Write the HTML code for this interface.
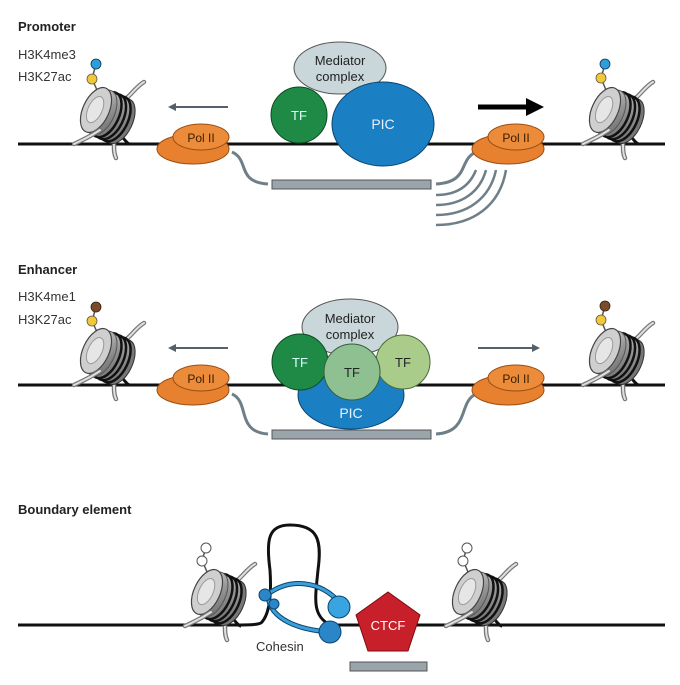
<!DOCTYPE html>
<html><head><style>
body{margin:0;background:#fff}
svg{display:block}
text{font-family:"Liberation Sans",sans-serif}
</style></head><body>
<svg width="680" height="685" viewBox="0 0 680 685" xmlns="http://www.w3.org/2000/svg">
<defs>
<linearGradient id="cyl" x1="0" y1="0" x2="1" y2="1">
<stop offset="0" stop-color="#d8d8d8"/><stop offset="0.5" stop-color="#9a9a9a"/><stop offset="1" stop-color="#6a6a6a"/>
</linearGradient>
<g id="nuc">
  <path d="M18,20 C26,24 30,34 34,34" stroke="#111" stroke-width="3" fill="none"/>
  <path d="M24,-8 C34,-12 38,-22 48,-28" stroke="#777" stroke-width="4.5" fill="none" stroke-linecap="round"/>
  <path d="M24,-8 C34,-12 38,-22 48,-28" stroke="#e0e0e0" stroke-width="2" fill="none" stroke-linecap="round"/>
  <path d="M16,24 C20,32 16,40 20,48" stroke="#777" stroke-width="4.5" fill="none" stroke-linecap="round"/>
  <path d="M16,24 C20,32 16,40 20,48" stroke="#e0e0e0" stroke-width="2" fill="none" stroke-linecap="round"/>
  <g transform="rotate(25)">
    <ellipse cx="26" cy="0" rx="13" ry="24" fill="#777" stroke="#333" stroke-width="1"/>
    <ellipse cx="21" cy="0" rx="13" ry="24" fill="url(#cyl)" stroke="#111" stroke-width="2.5"/>
    <ellipse cx="16" cy="0" rx="13" ry="24" fill="url(#cyl)" stroke="#111" stroke-width="2.5"/>
    <ellipse cx="11" cy="0" rx="13" ry="24" fill="url(#cyl)" stroke="#111" stroke-width="2.5"/>
    <ellipse cx="6" cy="0" rx="13" ry="24" fill="url(#cyl)" stroke="#555" stroke-width="1"/>
    <ellipse cx="0" cy="0" rx="13" ry="24" fill="#cfcfcf" stroke="#444" stroke-width="1.2"/>
    <ellipse cx="-1" cy="0" rx="7" ry="14" fill="#e6e6e6" stroke="#999" stroke-width="1"/>
  </g>
  <path d="M-22,34 C-14,30 -8,28 4,20" stroke="#777" stroke-width="4.5" fill="none" stroke-linecap="round"/>
  <path d="M-22,34 C-14,30 -8,28 4,20" stroke="#e0e0e0" stroke-width="2" fill="none" stroke-linecap="round"/>
</g>
<g id="pol">
  <ellipse cx="-2" cy="8" rx="36" ry="15" fill="#e8812f" stroke="#9a4e12" stroke-width="1"/>
  <ellipse cx="6" cy="-4" rx="28" ry="13" fill="#ec8b3a" stroke="#9a4e12" stroke-width="1"/>
  <text x="6" y="1" font-size="12" text-anchor="middle" fill="#3a2000">Pol II</text>
</g>
</defs>

<!-- PROMOTER -->
<text x="18" y="31" font-size="13" font-weight="bold" fill="#222">Promoter</text>
<text x="18" y="59" font-size="13" fill="#333">H3K4me3</text>
<text x="18" y="81" font-size="13" fill="#333">H3K27ac</text>
<line x1="18" y1="144" x2="665" y2="144" stroke="#111" stroke-width="3"/>
<line x1="96" y1="64" x2="92" y2="79" stroke="#555" stroke-width="1.5"/>
<line x1="92" y1="79" x2="97" y2="90" stroke="#555" stroke-width="1.5"/>
<use href="#nuc" x="96" y="110"/>
<circle cx="96" cy="64" r="5" fill="#2a9fd8" stroke="#135" stroke-width=".8"/>
<circle cx="92" cy="79" r="5" fill="#f0c93a" stroke="#654" stroke-width=".8"/>
<line x1="605" y1="64" x2="601" y2="78" stroke="#555" stroke-width="1.5"/>
<line x1="601" y1="78" x2="606" y2="90" stroke="#555" stroke-width="1.5"/>
<use href="#nuc" x="605" y="110"/>
<circle cx="605" cy="64" r="5" fill="#2a9fd8" stroke="#135" stroke-width=".8"/>
<circle cx="601" cy="78" r="5" fill="#f0c93a" stroke="#654" stroke-width=".8"/>
<line x1="228" y1="107" x2="172" y2="107" stroke="#55606a" stroke-width="2"/>
<path d="M168,107 l8,-4 v8z" fill="#55606a"/>
<line x1="478" y1="107" x2="528" y2="107" stroke="#000" stroke-width="5"/>
<path d="M544,107 l-18,-9 v18z" fill="#000"/>
<path d="M232,152 C250,160 236,182 268,184" stroke="#6f7f88" stroke-width="3" fill="none"/>
<rect x="272" y="180" width="159" height="9" fill="#9aa4ab" stroke="#555" stroke-width="1"/>
<path d="M476,152 C458,160 470,182 436,184" stroke="#6f7f88" stroke-width="3" fill="none"/>
<g stroke="#6f7f88" stroke-width="2.5" fill="none">
<path d="M436,195 C458,195 470,185 476,170"/>
<path d="M436,205 C462,205 480,192 486,170"/>
<path d="M436,215 C468,215 490,198 496,170"/>
<path d="M436,225 C474,225 500,205 506,170"/>
</g>
<use href="#pol" x="195" y="141"/>
<use href="#pol" x="510" y="141"/>
<ellipse cx="340" cy="68" rx="46" ry="26" fill="#c9d7db" stroke="#555" stroke-width="1"/>
<text x="340" y="65" font-size="13" text-anchor="middle" fill="#222">Mediator</text>
<text x="340" y="81" font-size="13" text-anchor="middle" fill="#222">complex</text>
<ellipse cx="383" cy="124" rx="51" ry="42" fill="#1b7fc4" stroke="#0b4470" stroke-width="1"/>
<text x="383" y="129" font-size="14" text-anchor="middle" fill="#e6f2ff">PIC</text>
<circle cx="299" cy="115" r="28" fill="#1e8a46" stroke="#0c4a22" stroke-width="1"/>
<text x="299" y="120" font-size="13" text-anchor="middle" fill="#dff">TF</text>

<!-- ENHANCER -->
<text x="18" y="274" font-size="13" font-weight="bold" fill="#222">Enhancer</text>
<text x="18" y="301" font-size="13" fill="#333">H3K4me1</text>
<text x="18" y="324" font-size="13" fill="#333">H3K27ac</text>
<line x1="18" y1="385" x2="665" y2="385" stroke="#111" stroke-width="3"/>
<line x1="96" y1="307" x2="92" y2="321" stroke="#555" stroke-width="1.5"/>
<line x1="92" y1="321" x2="97" y2="332" stroke="#555" stroke-width="1.5"/>
<use href="#nuc" x="96" y="351"/>
<circle cx="96" cy="307" r="5" fill="#7a4a2a" stroke="#321" stroke-width=".8"/>
<circle cx="92" cy="321" r="5" fill="#f0c93a" stroke="#654" stroke-width=".8"/>
<line x1="605" y1="306" x2="601" y2="320" stroke="#555" stroke-width="1.5"/>
<line x1="601" y1="320" x2="606" y2="332" stroke="#555" stroke-width="1.5"/>
<use href="#nuc" x="605" y="351"/>
<circle cx="605" cy="306" r="5" fill="#7a4a2a" stroke="#321" stroke-width=".8"/>
<circle cx="601" cy="320" r="5" fill="#f0c93a" stroke="#654" stroke-width=".8"/>
<line x1="228" y1="348" x2="172" y2="348" stroke="#55606a" stroke-width="2"/>
<path d="M168,348 l8,-4 v8z" fill="#55606a"/>
<line x1="478" y1="348" x2="534" y2="348" stroke="#55606a" stroke-width="2"/>
<path d="M540,348 l-8,-4 v8z" fill="#55606a"/>
<path d="M232,394 C250,402 236,432 268,434" stroke="#6f7f88" stroke-width="3" fill="none"/>
<rect x="272" y="430" width="159" height="9" fill="#9aa4ab" stroke="#555" stroke-width="1"/>
<path d="M476,394 C458,402 470,432 436,434" stroke="#6f7f88" stroke-width="3" fill="none"/>
<use href="#pol" x="195" y="382"/>
<use href="#pol" x="510" y="382"/>
<ellipse cx="351" cy="395" rx="53" ry="34" fill="#1b7fc4" stroke="#0b4470" stroke-width="1"/>
<text x="351" y="418" font-size="14" text-anchor="middle" fill="#e6f2ff">PIC</text>
<ellipse cx="350" cy="327" rx="48" ry="28" fill="#c9d7db" stroke="#555" stroke-width="1"/>
<text x="350" y="323" font-size="13" text-anchor="middle" fill="#222">Mediator</text>
<text x="350" y="339" font-size="13" text-anchor="middle" fill="#222">complex</text>
<circle cx="300" cy="362" r="28" fill="#1e8a46" stroke="#0c4a22" stroke-width="1"/>
<text x="300" y="367" font-size="13" text-anchor="middle" fill="#dff">TF</text>
<circle cx="403" cy="362" r="27" fill="#a9cc8a" stroke="#4b6b38" stroke-width="1"/>
<text x="403" y="367" font-size="13" text-anchor="middle" fill="#222">TF</text>
<circle cx="352" cy="372" r="28" fill="#8fc092" stroke="#335f3a" stroke-width="1"/>
<text x="352" y="377" font-size="13" text-anchor="middle" fill="#222">TF</text>

<!-- BOUNDARY -->
<text x="18" y="514" font-size="13" font-weight="bold" fill="#222">Boundary element</text>
<path d="M18,625 H230 C250,625 260,625 262,622 C268,615 272,600 270,570 C266,540 268,525 290,525 C318,525 322,540 318,570 C315,600 312,615 330,625 H665" stroke="#111" stroke-width="3" fill="none"/>
<line x1="206" y1="548" x2="202" y2="560" stroke="#555" stroke-width="1.5"/>
<line x1="202" y1="560" x2="207" y2="572" stroke="#555" stroke-width="1.5"/>
<use href="#nuc" x="207" y="592"/>
<circle cx="206" cy="548" r="5" fill="#fff" stroke="#555" stroke-width="1"/>
<circle cx="202" cy="561" r="5" fill="#fff" stroke="#555" stroke-width="1"/>
<line x1="467" y1="548" x2="463" y2="560" stroke="#555" stroke-width="1.5"/>
<line x1="463" y1="560" x2="468" y2="572" stroke="#555" stroke-width="1.5"/>
<use href="#nuc" x="468" y="592"/>
<circle cx="467" cy="548" r="5" fill="#fff" stroke="#555" stroke-width="1"/>
<circle cx="463" cy="561" r="5" fill="#fff" stroke="#555" stroke-width="1"/>
<g fill="none" stroke="#0b4470" stroke-width="5">
<path d="M268,594 C290,578 320,580 340,603"/>
<path d="M268,596 C270,620 300,630 330,632"/>
</g>
<g fill="none" stroke="#3aa0d8" stroke-width="3">
<path d="M268,594 C290,578 320,580 340,603"/>
<path d="M268,596 C270,620 300,630 330,632"/>
</g>
<circle cx="265" cy="595" r="6" fill="#2a86c6" stroke="#0b4470"/>
<circle cx="274" cy="604" r="5" fill="#2a86c6" stroke="#0b4470"/>
<circle cx="339" cy="607" r="11" fill="#3aa4e0" stroke="#0b4470"/>
<circle cx="330" cy="632" r="11" fill="#2a86c6" stroke="#0b4470"/>
<text x="256" y="651" font-size="13" fill="#333">Cohesin</text>
<polygon points="388,592 420,615 408,651 368,651 356,615" fill="#c8202a" stroke="#7a0d12" stroke-width="1"/>
<text x="388" y="630" font-size="13" text-anchor="middle" fill="#fff">CTCF</text>
<rect x="350" y="662" width="77" height="9" fill="#9aa4ab" stroke="#555" stroke-width="1"/>
</svg>
</body></html>
